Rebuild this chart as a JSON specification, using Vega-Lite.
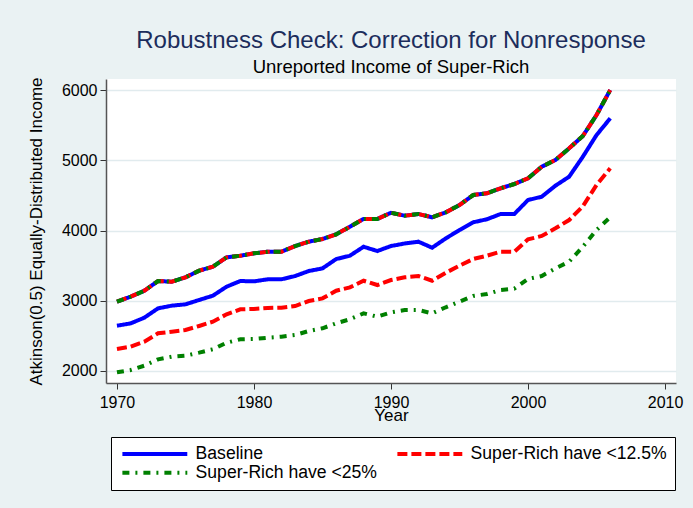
{
  "$schema": "https://vega.github.io/schema/vega-lite/v6.json",
  "width": 570,
  "height": 304,
  "autosize": {"type": "none"},
  "padding": {"left": 106, "top": 79, "right": 17, "bottom": 125},
  "background": "#eaf2f3",
  "config": {"view": {"stroke": null, "fill": "white"}},
  "title": {
    "text": "Robustness Check: Correction for Nonresponse",
    "subtitle": "Unreported Income of Super-Rich",
    "anchor": "middle",
    "frame": "group",
    "font": "Liberation Sans",
    "fontSize": 24,
    "fontWeight": "normal",
    "color": "#1c2d5c",
    "subtitleFont": "Liberation Sans",
    "subtitleFontSize": 18.5,
    "subtitleColor": "#000000",
    "subtitlePadding": 5,
    "offset": 0
  },
  "data": {
    "values": [
      {"year": 1970, "series": "Baseline", "upper": 2987, "lower": 2645},
      {"year": 1971, "series": "Baseline", "upper": 3058, "lower": 2678},
      {"year": 1972, "series": "Baseline", "upper": 3143, "lower": 2759},
      {"year": 1973, "series": "Baseline", "upper": 3281, "lower": 2892},
      {"year": 1974, "series": "Baseline", "upper": 3271, "lower": 2930},
      {"year": 1975, "series": "Baseline", "upper": 3334, "lower": 2949},
      {"year": 1976, "series": "Baseline", "upper": 3428, "lower": 3011},
      {"year": 1977, "series": "Baseline", "upper": 3485, "lower": 3072},
      {"year": 1978, "series": "Baseline", "upper": 3618, "lower": 3200},
      {"year": 1979, "series": "Baseline", "upper": 3641, "lower": 3281},
      {"year": 1980, "series": "Baseline", "upper": 3675, "lower": 3276},
      {"year": 1981, "series": "Baseline", "upper": 3698, "lower": 3305},
      {"year": 1982, "series": "Baseline", "upper": 3698, "lower": 3305},
      {"year": 1983, "series": "Baseline", "upper": 3779, "lower": 3352},
      {"year": 1984, "series": "Baseline", "upper": 3841, "lower": 3423},
      {"year": 1985, "series": "Baseline", "upper": 3879, "lower": 3461},
      {"year": 1986, "series": "Baseline", "upper": 3946, "lower": 3594},
      {"year": 1987, "series": "Baseline", "upper": 4054, "lower": 3641},
      {"year": 1988, "series": "Baseline", "upper": 4164, "lower": 3769},
      {"year": 1989, "series": "Baseline", "upper": 4164, "lower": 3708},
      {"year": 1990, "series": "Baseline", "upper": 4253, "lower": 3779},
      {"year": 1991, "series": "Baseline", "upper": 4211, "lower": 3815},
      {"year": 1992, "series": "Baseline", "upper": 4235, "lower": 3841},
      {"year": 1993, "series": "Baseline", "upper": 4188, "lower": 3755},
      {"year": 1994, "series": "Baseline", "upper": 4259, "lower": 3888},
      {"year": 1995, "series": "Baseline", "upper": 4363, "lower": 4007},
      {"year": 1996, "series": "Baseline", "upper": 4505, "lower": 4117},
      {"year": 1997, "series": "Baseline", "upper": 4530, "lower": 4160},
      {"year": 1998, "series": "Baseline", "upper": 4601, "lower": 4235},
      {"year": 1999, "series": "Baseline", "upper": 4662, "lower": 4235},
      {"year": 2000, "series": "Baseline", "upper": 4743, "lower": 4434},
      {"year": 2001, "series": "Baseline", "upper": 4908, "lower": 4481},
      {"year": 2002, "series": "Baseline", "upper": 5004, "lower": 4638},
      {"year": 2003, "series": "Baseline", "upper": 5170, "lower": 4766},
      {"year": 2004, "series": "Baseline", "upper": 5345, "lower": 5050},
      {"year": 2005, "series": "Baseline", "upper": 5644, "lower": 5359},
      {"year": 2006, "series": "Baseline", "upper": 6000, "lower": 5597},
      {"year": 1970, "series": "Super-Rich have <12.5%", "upper": 2987, "lower": 2313},
      {"year": 1971, "series": "Super-Rich have <12.5%", "upper": 3058, "lower": 2346},
      {"year": 1972, "series": "Super-Rich have <12.5%", "upper": 3143, "lower": 2417},
      {"year": 1973, "series": "Super-Rich have <12.5%", "upper": 3281, "lower": 2537},
      {"year": 1974, "series": "Super-Rich have <12.5%", "upper": 3271, "lower": 2560},
      {"year": 1975, "series": "Super-Rich have <12.5%", "upper": 3334, "lower": 2584},
      {"year": 1976, "series": "Super-Rich have <12.5%", "upper": 3428, "lower": 2641},
      {"year": 1977, "series": "Super-Rich have <12.5%", "upper": 3485, "lower": 2702},
      {"year": 1978, "series": "Super-Rich have <12.5%", "upper": 3618, "lower": 2807},
      {"year": 1979, "series": "Super-Rich have <12.5%", "upper": 3641, "lower": 2878},
      {"year": 1980, "series": "Super-Rich have <12.5%", "upper": 3675, "lower": 2883},
      {"year": 1981, "series": "Super-Rich have <12.5%", "upper": 3698, "lower": 2897},
      {"year": 1982, "series": "Super-Rich have <12.5%", "upper": 3698, "lower": 2902},
      {"year": 1983, "series": "Super-Rich have <12.5%", "upper": 3779, "lower": 2925},
      {"year": 1984, "series": "Super-Rich have <12.5%", "upper": 3841, "lower": 2996},
      {"year": 1985, "series": "Super-Rich have <12.5%", "upper": 3879, "lower": 3034},
      {"year": 1986, "series": "Super-Rich have <12.5%", "upper": 3946, "lower": 3143},
      {"year": 1987, "series": "Super-Rich have <12.5%", "upper": 4054, "lower": 3191},
      {"year": 1988, "series": "Super-Rich have <12.5%", "upper": 4164, "lower": 3285},
      {"year": 1989, "series": "Super-Rich have <12.5%", "upper": 4164, "lower": 3224},
      {"year": 1990, "series": "Super-Rich have <12.5%", "upper": 4253, "lower": 3295},
      {"year": 1991, "series": "Super-Rich have <12.5%", "upper": 4211, "lower": 3334},
      {"year": 1992, "series": "Super-Rich have <12.5%", "upper": 4235, "lower": 3352},
      {"year": 1993, "series": "Super-Rich have <12.5%", "upper": 4188, "lower": 3285},
      {"year": 1994, "series": "Super-Rich have <12.5%", "upper": 4259, "lower": 3399},
      {"year": 1995, "series": "Super-Rich have <12.5%", "upper": 4363, "lower": 3499},
      {"year": 1996, "series": "Super-Rich have <12.5%", "upper": 4505, "lower": 3594},
      {"year": 1997, "series": "Super-Rich have <12.5%", "upper": 4530, "lower": 3641},
      {"year": 1998, "series": "Super-Rich have <12.5%", "upper": 4601, "lower": 3698},
      {"year": 1999, "series": "Super-Rich have <12.5%", "upper": 4662, "lower": 3698},
      {"year": 2000, "series": "Super-Rich have <12.5%", "upper": 4743, "lower": 3874},
      {"year": 2001, "series": "Super-Rich have <12.5%", "upper": 4908, "lower": 3922},
      {"year": 2002, "series": "Super-Rich have <12.5%", "upper": 5004, "lower": 4031},
      {"year": 2003, "series": "Super-Rich have <12.5%", "upper": 5170, "lower": 4149},
      {"year": 2004, "series": "Super-Rich have <12.5%", "upper": 5345, "lower": 4345},
      {"year": 2005, "series": "Super-Rich have <12.5%", "upper": 5644, "lower": 4648},
      {"year": 2006, "series": "Super-Rich have <12.5%", "upper": 6000, "lower": 4885},
      {"year": 1970, "series": "Super-Rich have <25%", "upper": 2987, "lower": 1981},
      {"year": 1971, "series": "Super-Rich have <25%", "upper": 3058, "lower": 2014},
      {"year": 1972, "series": "Super-Rich have <25%", "upper": 3143, "lower": 2076},
      {"year": 1973, "series": "Super-Rich have <25%", "upper": 3281, "lower": 2166},
      {"year": 1974, "series": "Super-Rich have <25%", "upper": 3271, "lower": 2204},
      {"year": 1975, "series": "Super-Rich have <25%", "upper": 3334, "lower": 2218},
      {"year": 1976, "series": "Super-Rich have <25%", "upper": 3428, "lower": 2261},
      {"year": 1977, "series": "Super-Rich have <25%", "upper": 3485, "lower": 2309},
      {"year": 1978, "series": "Super-Rich have <25%", "upper": 3618, "lower": 2403},
      {"year": 1979, "series": "Super-Rich have <25%", "upper": 3641, "lower": 2451},
      {"year": 1980, "series": "Super-Rich have <25%", "upper": 3675, "lower": 2455},
      {"year": 1981, "series": "Super-Rich have <25%", "upper": 3698, "lower": 2474},
      {"year": 1982, "series": "Super-Rich have <25%", "upper": 3698, "lower": 2488},
      {"year": 1983, "series": "Super-Rich have <25%", "upper": 3779, "lower": 2512},
      {"year": 1984, "series": "Super-Rich have <25%", "upper": 3841, "lower": 2569},
      {"year": 1985, "series": "Super-Rich have <25%", "upper": 3879, "lower": 2608},
      {"year": 1986, "series": "Super-Rich have <25%", "upper": 3946, "lower": 2679},
      {"year": 1987, "series": "Super-Rich have <25%", "upper": 4054, "lower": 2736},
      {"year": 1988, "series": "Super-Rich have <25%", "upper": 4164, "lower": 2821},
      {"year": 1989, "series": "Super-Rich have <25%", "upper": 4164, "lower": 2773},
      {"year": 1990, "series": "Super-Rich have <25%", "upper": 4253, "lower": 2835},
      {"year": 1991, "series": "Super-Rich have <25%", "upper": 4211, "lower": 2868},
      {"year": 1992, "series": "Super-Rich have <25%", "upper": 4235, "lower": 2868},
      {"year": 1993, "series": "Super-Rich have <25%", "upper": 4188, "lower": 2821},
      {"year": 1994, "series": "Super-Rich have <25%", "upper": 4259, "lower": 2907},
      {"year": 1995, "series": "Super-Rich have <25%", "upper": 4363, "lower": 2986},
      {"year": 1996, "series": "Super-Rich have <25%", "upper": 4505, "lower": 3068},
      {"year": 1997, "series": "Super-Rich have <25%", "upper": 4530, "lower": 3096},
      {"year": 1998, "series": "Super-Rich have <25%", "upper": 4601, "lower": 3153},
      {"year": 1999, "series": "Super-Rich have <25%", "upper": 4662, "lower": 3172},
      {"year": 2000, "series": "Super-Rich have <25%", "upper": 4743, "lower": 3310},
      {"year": 2001, "series": "Super-Rich have <25%", "upper": 4908, "lower": 3352},
      {"year": 2002, "series": "Super-Rich have <25%", "upper": 5004, "lower": 3461},
      {"year": 2003, "series": "Super-Rich have <25%", "upper": 5170, "lower": 3556},
      {"year": 2004, "series": "Super-Rich have <25%", "upper": 5345, "lower": 3769},
      {"year": 2005, "series": "Super-Rich have <25%", "upper": 5644, "lower": 4007},
      {"year": 2006, "series": "Super-Rich have <25%", "upper": 6000, "lower": 4188}
    ]
  },
  "transform": [{"fold": ["upper", "lower"], "as": ["band", "value"]}],
  "encoding": {
    "x": {
      "field": "year",
      "type": "quantitative",
      "scale": {"domain": [1969.2, 2010.8], "nice": false, "zero": false},
      "axis": {
        "values": [1970, 1980, 1990, 2000, 2010],
        "format": "d",
        "title": "Year",
        "titleFont": "Liberation Sans",
        "titleFontSize": 17,
        "titleFontWeight": "normal",
        "titleColor": "black",
        "titlePadding": -3,
        "labelFont": "Liberation Sans",
        "labelFontSize": 16,
        "labelColor": "black",
        "labelPadding": 5,
        "labelFlush": false,
        "tickSize": 6,
        "tickColor": "#333333",
        "domainColor": "#555555",
        "domainWidth": 1.5,
        "grid": false
      }
    },
    "y": {
      "field": "value",
      "type": "quantitative",
      "scale": {"domain": [1829, 6157], "nice": false, "zero": false},
      "axis": {
        "values": [2000, 3000, 4000, 5000, 6000],
        "format": "d",
        "title": "Atkinson(0.5) Equally-Distributed Income",
        "titleFont": "Liberation Sans",
        "titleFontSize": 17,
        "titleFontWeight": "normal",
        "titleColor": "black",
        "titlePadding": 16,
        "labelFont": "Liberation Sans",
        "labelFontSize": 16,
        "labelColor": "black",
        "labelPadding": 3,
        "labelFlush": false,
        "tickSize": 6,
        "tickColor": "#333333",
        "domainColor": "#555555",
        "domainWidth": 1.5,
        "grid": true,
        "gridColor": "#e1ebee",
        "gridWidth": 1.5
      }
    },
    "color": {
      "field": "series",
      "type": "nominal",
      "scale": {
        "domain": ["Baseline", "Super-Rich have <12.5%", "Super-Rich have <25%"],
        "range": ["#0000ff", "#ff0000", "#008000"]
      },
      "legend": {
        "title": null,
        "orient": "none",
        "legendX": 5,
        "legendY": 358,
        "direction": "horizontal",
        "columns": 2,
        "gridAlign": "each",
        "symbolType": "M-1,0L11,0",
        "symbolSize": 117,
        "symbolStrokeWidth": 4,
        "labelFont": "Liberation Sans",
        "labelFontSize": 17.6,
        "labelColor": "black",
        "labelOffset": 59,
        "labelLimit": 400,
        "columnPadding": 11,
        "rowPadding": 0,
        "padding": 8,
        "strokeColor": "black",
        "fillColor": "white"
      }
    },
    "strokeDash": {
      "field": "series",
      "type": "nominal",
      "scale": {
        "domain": ["Baseline", "Super-Rich have <12.5%", "Super-Rich have <25%"],
        "range": [[1, 0], [10, 4], [7, 6, 2, 6]]
      },
      "legend": {
        "title": null,
        "orient": "none",
        "legendX": 5,
        "legendY": 358,
        "direction": "horizontal",
        "columns": 2,
        "gridAlign": "each",
        "symbolType": "M-1,0L11,0",
        "symbolSize": 117,
        "symbolStrokeWidth": 4,
        "labelFont": "Liberation Sans",
        "labelFontSize": 17.6,
        "labelColor": "black",
        "labelOffset": 59,
        "labelLimit": 400,
        "columnPadding": 11,
        "rowPadding": 0,
        "padding": 8,
        "strokeColor": "black",
        "fillColor": "white"
      }
    },
    "detail": {"field": "band", "type": "nominal"}
  },
  "layer": [
    {
      "transform": [{"filter": "datum.series === 'Baseline'"}],
      "mark": {"type": "line", "strokeWidth": 4}
    },
    {
      "transform": [{"filter": "datum.series === 'Super-Rich have <12.5%'"}],
      "mark": {"type": "line", "strokeWidth": 4}
    },
    {
      "transform": [{"filter": "datum.series === 'Super-Rich have <25%'"}],
      "mark": {"type": "line", "strokeWidth": 4}
    }
  ]
}
